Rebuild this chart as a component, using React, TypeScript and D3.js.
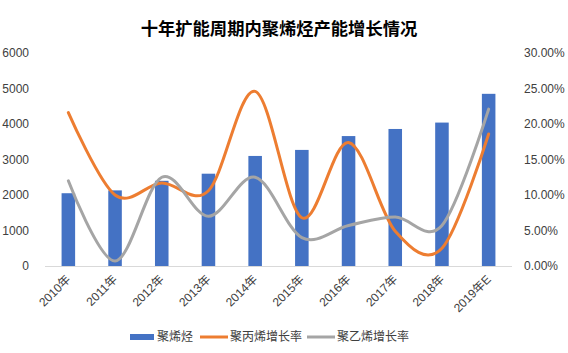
import React from "react";
import * as d3 from "d3";

const categories = ["2010年", "2011年", "2012年", "2013年", "2014年", "2015年", "2016年", "2017年", "2018年", "2019年E"];
const capacity = [2050, 2130, 2400, 2600, 3100, 3270, 3660, 3860, 4040, 4850];
const ppGrowth = [21.6, 10.0, 11.7, 10.6, 24.6, 6.8, 17.4, 4.9, 2.5, 18.6];
const peGrowth = [12.0, 0.7, 12.5, 7.0, 12.5, 4.0, 5.7, 6.9, 5.7, 22.1];
const leftTicks = [0, 1000, 2000, 3000, 4000, 5000, 6000];
const rightTicks = [0, 5, 10, 15, 20, 25, 30];
const title = "十年扩能周期内聚烯烃产能增长情况";
const legendLabels = ["聚烯烃", "聚丙烯增长率", "聚乙烯增长率"];

const W = 568, H = 353;
const BLUE = "#4472C4", ORANGE = "#ED7D31", GRAY = "#A5A5A5";
const FONT = "'Liberation Sans', 'Noto Sans CJK SC', sans-serif";

export default function App() {
  const x = d3.scaleBand<string>().domain(categories).range([45, 512]).paddingInner(0.71).paddingOuter(0.355);
  const yL = d3.scaleLinear().domain([0, 6000]).range([266, 53]);
  const yR = d3.scaleLinear().domain([0, 30]).range([266, 53]);
  const cx = (c: string) => (x(c) as number) + x.bandwidth() / 2;
  const line = d3.line<number>().x((_, i) => cx(categories[i])).y((d) => yR(d)).curve(d3.curveCatmullRom.alpha(0));

  return (
    <svg width={W} height={H} style={{ position: "absolute", left: 0, top: 0, background: "#fff" }} fontFamily={FONT}>
      <text x={279} y={35} textAnchor="middle" fontSize={17.3} fontWeight="bold" fill="#000" fontFamily="'Noto Sans CJK SC', sans-serif">{title}</text>
      {leftTicks.map((t) => (
        <text key={"l" + t} x={29} y={yL(t) + 4} textAnchor="end" fontSize={12} fill="#404040">{t}</text>
      ))}
      {rightTicks.map((t) => (
        <text key={"r" + t} x={524} y={yR(t) + 4} textAnchor="start" fontSize={12} fill="#404040">{t.toFixed(2) + "%"}</text>
      ))}
      {categories.map((c, i) => (
        <rect key={c} x={x(c)} y={yL(capacity[i])} width={x.bandwidth()} height={yL(0) - yL(capacity[i])} fill={BLUE} />
      ))}
      <line x1={45} x2={512} y1={266.5} y2={266.5} stroke="#D9D9D9" strokeWidth={1} />
      <path d={line(ppGrowth) || ""} fill="none" stroke={ORANGE} strokeWidth={3} strokeLinecap="round" />
      <path d={line(peGrowth) || ""} fill="none" stroke={GRAY} strokeWidth={3} strokeLinecap="round" />
      {categories.map((c) => (
        <text key={"x" + c} transform={`translate(${cx(c) + 3},${280}) rotate(-45)`} textAnchor="end" fontSize={12} fill="#404040">{c}</text>
      ))}
      <g fontSize={12} fill="#404040">
        <rect x={130} y={334} width={24} height={6} fill={BLUE} />
        <text x={157} y={341}>{legendLabels[0]}</text>
        <line x1={200} x2={228} y1={337} y2={337} stroke={ORANGE} strokeWidth={3} />
        <text x={230} y={341}>{legendLabels[1]}</text>
        <line x1={307} x2={335} y1={337} y2={337} stroke={GRAY} strokeWidth={3} />
        <text x={337} y={341}>{legendLabels[2]}</text>
      </g>
    </svg>
  );
}
